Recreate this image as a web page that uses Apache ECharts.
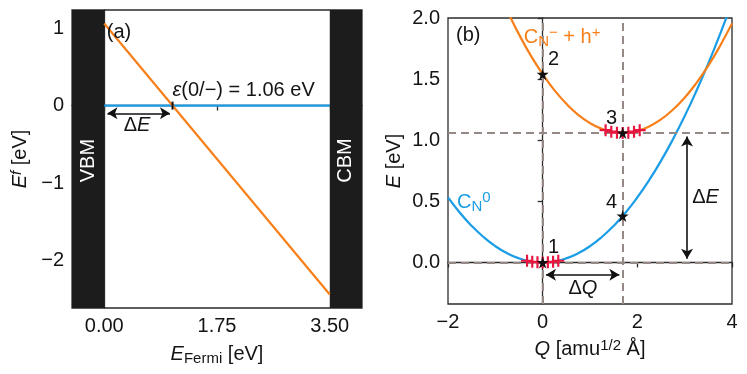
<!DOCTYPE html>
<html>
<head>
<meta charset="utf-8">
<script src="https://cdn.jsdelivr.net/npm/echarts@6/dist/echarts.min.js"></script>
<style>
html, body { margin: 0; background: #fff; }
#main { width: 747px; height: 374px; }
</style>
</head>
<body>
<div id="main"></div>
<script>
// panel (a) - formation energy vs fermi level
var fermiTicks = [0, 1.75, 3.5];
var efTicks = [-2, -1, 0, 1];
var neutralLine = [[0, 0], [3.5, 0]];
var chargedLine = [[0, 1.06], [3.5, -2.44]];
var transitionLevel = 1.06;

// panel (b) - configuration coordinate diagram
var qTicks = [-2, 0, 2, 4];
var eTicks = [0, 0.5, 1, 1.5, 2];
var groundQ = [-2, -1.75, -1.5, -1.25, -1, -0.75, -0.5, -0.25, 0, 0.25, 0.5, 0.75, 1, 1.25, 1.5, 1.75, 2, 2.25, 2.5, 2.75, 3, 3.25, 3.5, 3.75, 4];
var groundE = [0.532, 0.407, 0.299, 0.208, 0.133, 0.075, 0.033, 0.008, 0, 0.008, 0.033, 0.075, 0.133, 0.208, 0.299, 0.407, 0.532, 0.673, 0.831, 1.006, 1.197, 1.405, 1.629, 1.870, 2.128];
var excitedQ = [-0.75, -0.5, -0.25, 0, 0.25, 0.5, 0.75, 1, 1.25, 1.5, 1.75, 2, 2.25, 2.5, 2.75, 3, 3.25, 3.5, 3.75, 4];
var excitedE = [2.060, 1.866, 1.692, 1.540, 1.408, 1.298, 1.208, 1.140, 1.093, 1.066, 1.061, 1.076, 1.113, 1.170, 1.249, 1.348, 1.469, 1.610, 1.773, 1.956];
var groundFitQ = [-0.33, -0.22, -0.11, 0, 0.11, 0.22, 0.33];
var groundFitE = [0.014, 0.006, 0.002, 0, 0.002, 0.006, 0.014];
var excitedFitQ = [1.33, 1.45, 1.57, 1.69, 1.81, 1.93, 2.05];
var excitedFitE = [1.082, 1.070, 1.062, 1.06, 1.062, 1.070, 1.082];
var starQ = [0, 0, 1.69, 1.69];
var starE = [0, 1.54, 1.06, 0.38];
var starNames = ['1', '2', '3', '4'];
var deltaQ = 1.69;
var zplE = 1.06;

var FONT = 'Liberation Sans, Arial, sans-serif';
var FS = 20;
var ORANGE = '#f7801a';
var BLUE = '#1a9de6';
var DARK = '#141414';
var GREYDASH = '#958985';
var STAR = 'path://M50,0 L61,35 L98,35 L68,57 L79,91 L50,70 L21,91 L32,57 L2,35 L39,35 Z';
var PLUS = 'path://M4.1,0 H5.9 V4.1 H10 V5.9 H5.9 V10 H4.1 V5.9 H0 V4.1 H4.1 Z';

function zip(a, b) {
	var out = [];
	for (var i = 0; i < a.length; i++) out.push([a[i], b[i]]);
	return out;
}
function minus(v) {
	return v < 0 ? '\u2212' + Math.abs(v) : '' + v;
}
function richFor(col) {
	return {
		i: { fontStyle: 'italic', fontSize: FS, fontFamily: FONT, color: col },
		sub: { fontSize: 15, fontFamily: FONT, color: col, verticalAlign: 'bottom', padding: [9, 0, 0, 0] },
		sup: { fontSize: 15, fontFamily: FONT, color: col, verticalAlign: 'top', padding: [0, 0, 8, 0] },
		isup: { fontSize: 15, fontStyle: 'italic', fontFamily: FONT, color: col, verticalAlign: 'top', padding: [0, 0, 8, 0] }
	};
}
var richBase = richFor(DARK);
// text annotation helper
function txt(xi, x, y, fmt, extra) {
	var lab = {
		show: true,
		position: 'inside',
		formatter: fmt,
		fontSize: FS,
		fontFamily: FONT,
		color: DARK,
		textBorderWidth: 0,
		opacity: 1
	};
	for (var k in extra) lab[k] = extra[k];
	return {
		type: 'scatter', xAxisIndex: xi, yAxisIndex: xi, symbolSize: 0, silent: true, z: 20,
		itemStyle: { opacity: 1 },
		data: [[x, y]], label: lab
	};
}
function arrow(xi, from, to) {
	return {
		type: 'line', xAxisIndex: xi, yAxisIndex: xi, data: [], silent: true, z: 15,
		markLine: {
			silent: true, animation: false,
			symbol: ['arrow', 'arrow'], symbolSize: [9, 10],
			lineStyle: { color: '#111', width: 1.6, type: 'solid', opacity: 1 },
			itemStyle: { color: '#111' },
			label: { show: false },
			data: [[{ coord: from }, { coord: to }]]
		}
	};
}

function ax(o) {
	var r = {
		axisLine: { show: true, lineStyle: { color: '#2b2b2b', width: 1.3 } },
		splitLine: { show: false },
		nameLocation: 'middle',
		nameTextStyle: { fontSize: FS, fontFamily: FONT, color: DARK, rich: richBase }
	};
	for (var k in o) r[k] = o[k];
	return r;
}
function ticks(vals) {
	return { show: true, length: 5, customValues: vals, lineStyle: { color: '#2b2b2b', width: 1.3 } };
}
function labels(vals, fmt) {
	return { customValues: vals, fontSize: FS, fontFamily: FONT, color: DARK, margin: 8, formatter: fmt };
}

var chart = echarts.init(document.getElementById('main'), null, { renderer: 'canvas' });
option = {
	backgroundColor: '#ffffff',
	animation: false,
	grid: [
		{ left: 72, top: 10, width: 290, height: 298, show: true, borderColor: '#2b2b2b', borderWidth: 1.3, backgroundColor: 'transparent' },
		{ left: 448, top: 18, width: 284, height: 286, show: true, borderColor: '#2b2b2b', borderWidth: 1.3, backgroundColor: 'transparent' }
	],
	xAxis: [
		ax({
			gridIndex: 0, type: 'value', min: -0.5, max: 4,
			axisTick: ticks(fermiTicks),
			axisLabel: labels(fermiTicks, function (v) { return v.toFixed(2); }),
			name: '{i|E}{sub|Fermi} [eV]', nameGap: 34
		}),
		ax({
			gridIndex: 1, type: 'value', min: -2, max: 4, interval: 2,
			axisTick: ticks(qTicks),
			axisLabel: labels(qTicks, minus),
			name: '{i|Q} [amu{sup|1/2} \u00c5]', nameGap: 34
		})
	],
	yAxis: [
		ax({
			gridIndex: 0, type: 'value', min: -2.615, max: 1.235,
			axisTick: ticks(efTicks),
			axisLabel: labels(efTicks, minus),
			name: '{i|E}{isup|f} [eV]', nameGap: 40, nameRotate: 90
		}),
		ax({
			gridIndex: 1, type: 'value', min: -0.34, max: 2,
			axisTick: ticks(eTicks),
			axisLabel: labels(eTicks, function (v) { return v.toFixed(1); }),
			name: '{i|E} [eV]', nameGap: 44, nameRotate: 90
		})
	],
	series: [
		// band edges
		{
			type: 'line', xAxisIndex: 0, yAxisIndex: 0, data: [], z: 1,
			markArea: {
				silent: true,
				itemStyle: { color: '#1c1c1c', opacity: 1 },
				data: [[{ xAxis: -0.5 }, { xAxis: 0 }], [{ xAxis: 3.5 }, { xAxis: 4 }]]
			}
		},
		{
			type: 'line', xAxisIndex: 0, yAxisIndex: 0, data: neutralLine, showSymbol: false, z: 3,
			lineStyle: { color: BLUE, width: 2.2 }, itemStyle: { color: BLUE }
		},
		{
			type: 'line', xAxisIndex: 0, yAxisIndex: 0, data: chargedLine, showSymbol: false, z: 4,
			lineStyle: { color: ORANGE, width: 2.2 }, itemStyle: { color: ORANGE }
		},
		{
			type: 'scatter', xAxisIndex: 0, yAxisIndex: 0, data: [[transitionLevel, 0]], z: 6, silent: true,
			symbol: 'rect', symbolSize: [2, 8], itemStyle: { color: '#111', opacity: 1 }
		},
		arrow(0, [0.05, -0.1], [1.02, -0.1]),
		txt(0, 0.51, -0.26, '\u0394{i|E}', { rich: richBase }),
		txt(0, 1.06, 0.2, '{i|\u03b5}(0/\u2212) = 1.06 eV', { position: 'right', distance: 0, rich: richBase }),
		txt(0, 0.04, 0.95, '(a)', { position: 'right', distance: 0 }),
		txt(0, -0.25, -0.71, 'VBM', { color: '#fff', rotate: 90 }),
		txt(0, 3.75, -0.71, 'CBM', { color: '#fff', rotate: 90 }),

		// panel b reference lines
		{
			type: 'line', xAxisIndex: 1, yAxisIndex: 1, data: [], z: 1,
			markLine: {
				silent: true, animation: false, symbol: 'none',
				label: { show: false },
				lineStyle: { color: GREYDASH, width: 2, type: [8, 5], opacity: 1 },
				data: [{ xAxis: 0 }, { xAxis: deltaQ }, { yAxis: 0 }, { yAxis: zplE }]
			}
		},
		{
			type: 'line', xAxisIndex: 1, yAxisIndex: 1, data: zip(groundQ, groundE), smooth: true,
			showSymbol: false, z: 3, lineStyle: { color: BLUE, width: 2.2 }, itemStyle: { color: BLUE }
		},
		{
			type: 'line', xAxisIndex: 1, yAxisIndex: 1, data: zip(excitedQ, excitedE), smooth: true,
			showSymbol: false, z: 3, lineStyle: { color: ORANGE, width: 2.2 }, itemStyle: { color: ORANGE }
		},
		{
			type: 'scatter', xAxisIndex: 1, yAxisIndex: 1, z: 5, silent: true,
			data: zip(groundFitQ, groundFitE).concat(zip(excitedFitQ, excitedFitE)),
			symbol: PLUS, symbolSize: 12, itemStyle: { color: '#e8163f', opacity: 1 }
		},
		{
			type: 'scatter', xAxisIndex: 1, yAxisIndex: 1, z: 7, silent: true,
			data: zip(starQ, starE).map(function (p, i) {
				var off = [[11, -15], [11, -15], [-11, -14], [-11, -14]][i];
				return { value: p, label: { offset: off } };
			}),
			symbol: STAR, symbolSize: 12, itemStyle: { color: '#111', opacity: 1 },
			label: {
				show: true, position: 'inside', fontSize: FS, fontFamily: FONT, color: DARK,
				textBorderWidth: 0, opacity: 1,
				formatter: function (p) { return starNames[p.dataIndex]; }
			}
		},
		arrow(1, [0.07, -0.1], [1.62, -0.1]),
		arrow(1, [3.05, 1.03], [3.05, 0.03]),
		txt(1, 0.85, -0.21, '\u0394{i|Q}', { rich: richBase }),
		txt(1, 3.44, 0.53, '\u0394{i|E}', { rich: richBase }),
		txt(1, -1.83, 1.855, '(b)', { position: 'right', distance: 0 }),
		txt(1, -0.4, 1.84, 'C{sub|N}{sup|\u2212} + h{sup|+}', {
			position: 'right', distance: 0, color: ORANGE, rich: richFor(ORANGE)
		}),
		txt(1, -1.81, 0.49, 'C{sub|N}{sup|0}', {
			position: 'right', distance: 0, color: BLUE, rich: richFor(BLUE)
		})
	]
};
chart.setOption(option);
</script>
</body>
</html>
